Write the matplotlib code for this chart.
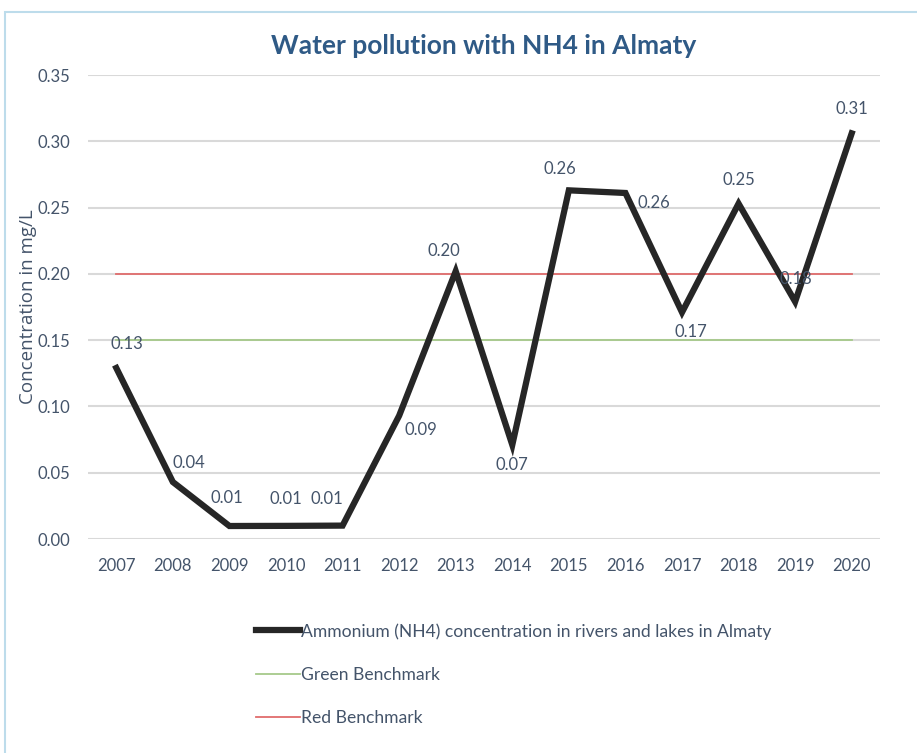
import numpy as np
import matplotlib.pyplot as plt
from matplotlib.patches import Rectangle

plt.rcParams['font.family'] = ['Lato', 'DejaVu Sans']

years = ['2007', '2008', '2009', '2010', '2011', '2012', '2013',
         '2014', '2015', '2016', '2017', '2018', '2019', '2020']
nh4 = [0.129, 0.043, 0.0098, 0.0099, 0.0101, 0.093, 0.202,
       0.071, 0.263, 0.261, 0.171, 0.253, 0.179, 0.306]
green_bench = [0.15] * len(years)
red_bench = [0.20] * len(years)
# label offsets (pixels) from each point
label_dx = [11, 16, -3, 0, -16, 22, -12, 0, -9, 28, 9, 0, 1, 0]
label_dy = [24, 19, 28, 27, 27, -14, 20, -20, 21, -10, -20, 24, 23, 24]

txt = '#44546A'

fig = plt.figure(figsize=(9.17, 7.53), dpi=100)
ax = fig.add_axes([88 / 917, 1 - 539 / 753, (880 - 88) / 917, (539 - 75) / 753])

x = np.arange(len(years))
ax.plot(x, red_bench, color='#E06C6C', lw=1.3, label='Red Benchmark', zorder=2)
ax.plot(x, green_bench, color='#A6C98A', lw=1.3, label='Green Benchmark', zorder=2)
ax.plot(x, nh4, color='#262626', lw=4.5, solid_joinstyle='miter',
        label='Ammonium (NH4) concentration in rivers and lakes in Almaty', zorder=3)

for i, v in enumerate(nh4):
    ax.annotate(f'{v:.2f}', (x[i], v), xytext=(label_dx[i], label_dy[i]),
                textcoords='offset pixels', ha='center', va='center',
                fontsize=12, color=txt, zorder=4)

ax.set_xlim(-0.5, len(years) - 0.5)
ax.set_ylim(0, 0.35)
ax.set_yticks(np.arange(0, 0.36, 0.05))
ax.yaxis.set_major_formatter(plt.FormatStrFormatter('%.2f'))
ax.set_xticks(x)
ax.set_xticklabels(years)
ax.tick_params(length=0, labelsize=12, labelcolor=txt)
ax.tick_params(axis='y', pad=13)
ax.tick_params(axis='x', pad=14)
ax.grid(axis='y', color='#D9D9D9', lw=1.5)
ax.set_axisbelow(True)
for s in ax.spines.values():
    s.set_visible(False)

ax.set_ylabel('Concentration in mg/L', fontsize=13.5, color=txt,
              family=['Open Sans', 'DejaVu Sans'], va='center', ha='center')
ax.yaxis.set_label_coords(-(88 - 28) / 792, 0.5)

fig.text(484 / 917, 1 - 46 / 753, 'Water pollution with NH4 in Almaty',
         ha='center', va='center', fontsize=19, fontweight='bold', color='#2F5A86')

h, l = ax.get_legend_handles_labels()
order = [2, 1, 0]
fig.legend([h[k] for k in order], [l[k] for k in order],
           loc='upper left', bbox_to_anchor=(256 / 917, 1 - 623 / 753),
           frameon=False, fontsize=12.6, labelcolor=txt, handlelength=2.5,
           handletextpad=0.05, labelspacing=1.55, borderpad=0, borderaxespad=0)

fig.add_artist(Rectangle((5 / 917, -0.1), 1.2, 1.1 - 12 / 753,
                         transform=fig.transFigure, fill=False,
                         edgecolor='#BDDCEB', lw=1.5))

fig.savefig('out.png', dpi=100)
